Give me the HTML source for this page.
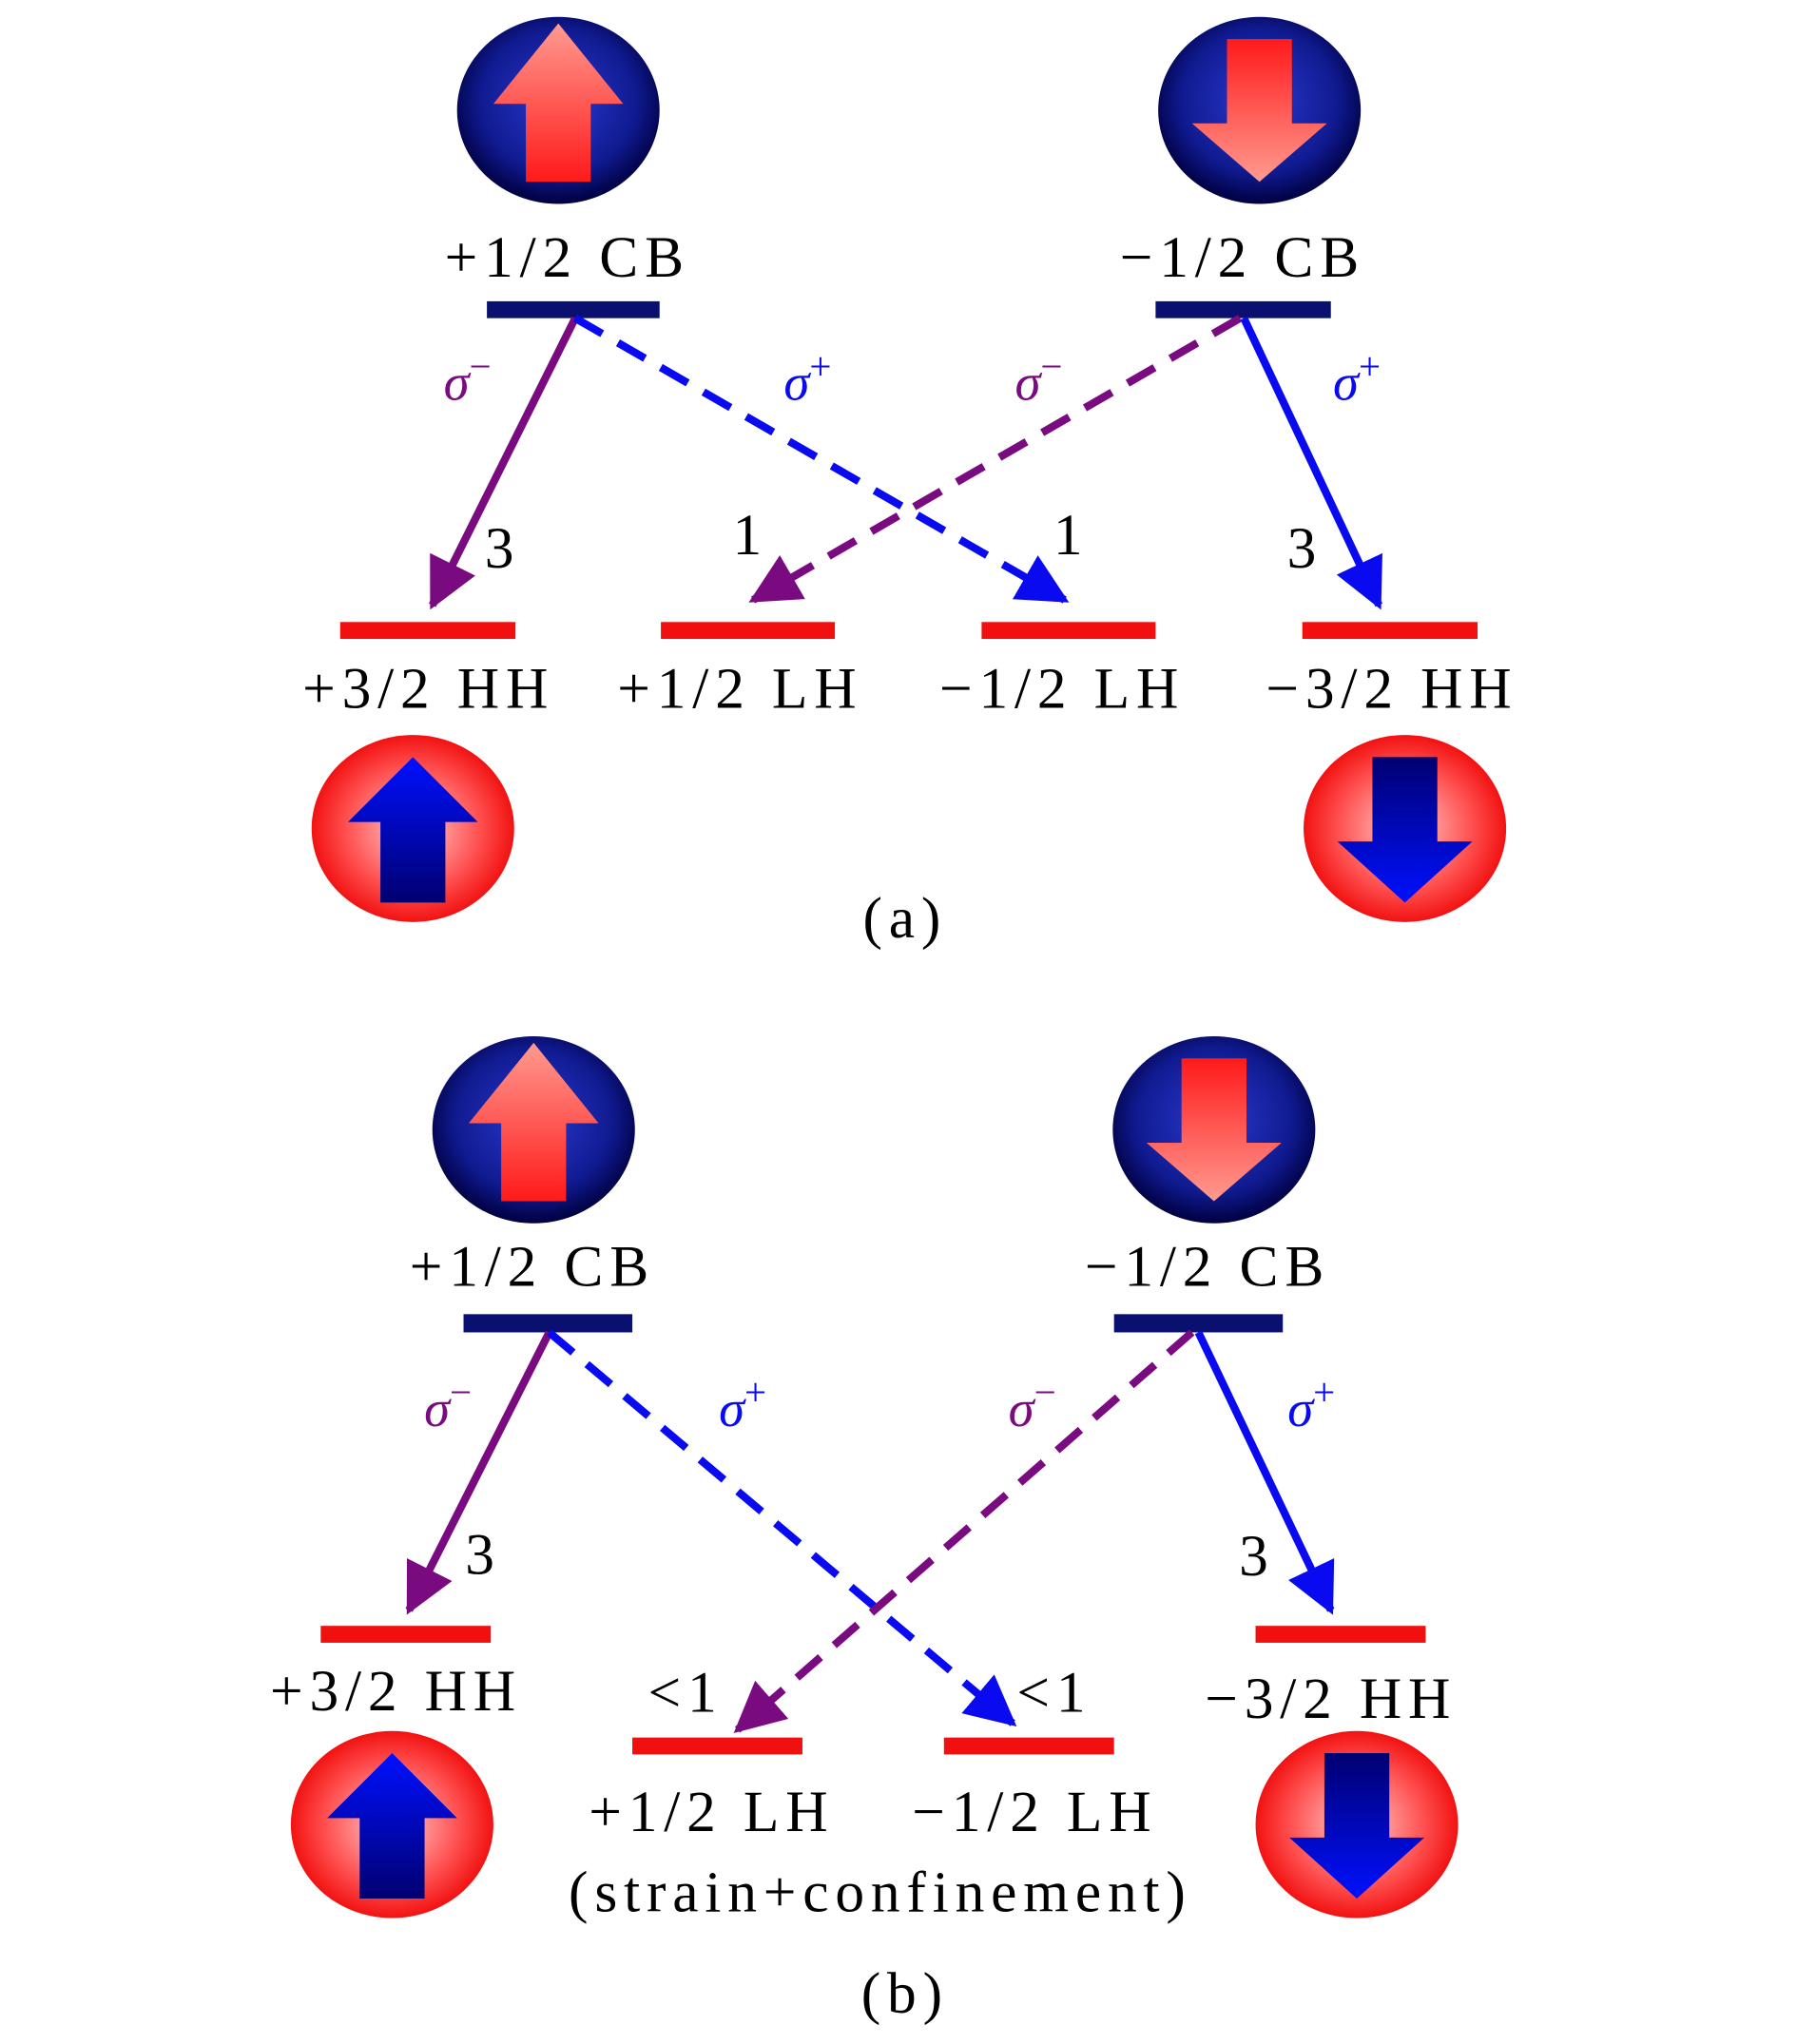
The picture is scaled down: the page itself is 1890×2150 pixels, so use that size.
<!DOCTYPE html>
<html><head><meta charset="utf-8"><style>html,body{margin:0;padding:0;background:#fff}svg{display:block}</style></head><body>
<svg width="1890" height="2150" viewBox="0 0 1384 1574" preserveAspectRatio="none" xmlns="http://www.w3.org/2000/svg">
<defs>
<radialGradient id="gb" cx="50%" cy="45%" r="55%"><stop offset="0" stop-color="#2a3ad0"/><stop offset="0.7" stop-color="#101a90"/><stop offset="1" stop-color="#000040"/></radialGradient>
<radialGradient id="gr" cx="50%" cy="50%" r="55%"><stop offset="0" stop-color="#ffd0d0"/><stop offset="0.6" stop-color="#ff5050"/><stop offset="1" stop-color="#ee0000"/></radialGradient>
<linearGradient id="pa" x1="0" y1="0" x2="0" y2="1"><stop offset="0" stop-color="#ff9a90"/><stop offset="1" stop-color="#ff1a1a"/></linearGradient>
<linearGradient id="pd" x1="0" y1="1" x2="0" y2="0"><stop offset="0" stop-color="#ff9a90"/><stop offset="1" stop-color="#ff1a1a"/></linearGradient>
<linearGradient id="ba" x1="0" y1="0" x2="0" y2="1"><stop offset="0" stop-color="#0010ff"/><stop offset="1" stop-color="#000070"/></linearGradient>
<linearGradient id="bd" x1="0" y1="1" x2="0" y2="0"><stop offset="0" stop-color="#0010ff"/><stop offset="1" stop-color="#000070"/></linearGradient>
<marker id="mp" viewBox="0 0 10 10" refX="9" refY="5" markerWidth="6.5" markerHeight="6.5" orient="auto" markerUnits="strokeWidth"><path d="M0,0L10,5L0,10z" fill="#7a0a80"/></marker>
<marker id="mb" viewBox="0 0 10 10" refX="9" refY="5" markerWidth="6.5" markerHeight="6.5" orient="auto" markerUnits="strokeWidth"><path d="M0,0L10,5L0,10z" fill="#0a0af0"/></marker>
<g id="cu"><ellipse cx="0" cy="0" rx="78" ry="72" fill="url(#gb)"/><path d="M-25,-5H-50L0,-67L50,-5H25V55H-25z" fill="url(#pa)"/></g>
<g id="cd"><ellipse cx="0" cy="0" rx="78" ry="72" fill="url(#gb)"/><path d="M-25,-55H25V10H52L0,55L-52,10H-25z" fill="url(#pd)"/></g>
<g id="ru"><ellipse cx="0" cy="0" rx="78" ry="72" fill="url(#gr)"/><path d="M-25,-5H-50L0,-55L50,-5H25V57H-25z" fill="url(#ba)"/></g>
<g id="rd"><ellipse cx="0" cy="0" rx="78" ry="72" fill="url(#gr)"/><path d="M-25,-55H25V10H52L0,57L-52,10H-25z" fill="url(#bd)"/></g>
</defs>
<g font-family="Liberation Serif, serif" font-size="45" letter-spacing="5" text-anchor="middle" fill="#000">
<!-- (a) -->
<use href="#cu" x="430" y="85"/><use href="#cd" x="970" y="85"/>
<text x="437" y="213">+1/2 CB</text><text x="957" y="213">−1/2 CB</text>
<rect x="375" y="232" width="133" height="13" fill="#0a1070"/><rect x="890" y="232" width="135" height="13" fill="#0a1070"/>
<g fill="#f01010"><rect x="262" y="479" width="135" height="13"/><rect x="509" y="479" width="134" height="13"/><rect x="756" y="479" width="134" height="13"/><rect x="1003" y="479" width="135" height="13"/></g>
<text x="330" y="545">+3/2 HH</text><text x="570" y="545">+1/2 LH</text><text x="818" y="545">−1/2 LH</text><text x="1072" y="545">−3/2 HH</text>
<use href="#ru" x="318" y="638"/><use href="#rd" x="1082" y="638"/>
<text x="697" y="722">(a)</text>
<line x1="443" y1="245" x2="333" y2="466" stroke="#7a0a80" stroke-width="6" marker-end="url(#mp)"/>
<line x1="443" y1="245" x2="820" y2="462" stroke="#0a0af0" stroke-width="6" stroke-dasharray="24,14" marker-end="url(#mb)"/>
<line x1="955" y1="245" x2="580" y2="462" stroke="#7a0a80" stroke-width="6" stroke-dasharray="24,14" marker-end="url(#mp)"/>
<line x1="958" y1="245" x2="1062" y2="466" stroke="#0a0af0" stroke-width="6" marker-end="url(#mb)"/>
<g font-style="italic" font-size="40" letter-spacing="0"><text x="360" y="308" fill="#7a0a80">σ<tspan dy="-16" font-size="30" font-style="normal">−</tspan></text><text x="622" y="308" fill="#0a0af0">σ<tspan dy="-16" font-size="30" font-style="normal">+</tspan></text><text x="800" y="308" fill="#7a0a80">σ<tspan dy="-16" font-size="30" font-style="normal">−</tspan></text><text x="1045" y="308" fill="#0a0af0">σ<tspan dy="-16" font-size="30" font-style="normal">+</tspan></text></g>
<text x="387" y="437">3</text><text x="578" y="427">1</text><text x="825" y="427">1</text><text x="1005" y="437">3</text>
<!-- (b) -->
<use href="#cu" x="411" y="870"/><use href="#cd" x="935" y="870"/>
<text x="410" y="990">+1/2 CB</text><text x="930" y="990">−1/2 CB</text>
<rect x="357" y="1012" width="130" height="14" fill="#0a1070"/><rect x="858" y="1012" width="130" height="14" fill="#0a1070"/>
<g fill="#f01010"><rect x="247" y="1252" width="131" height="13"/><rect x="967" y="1252" width="131" height="13"/><rect x="487" y="1338" width="131" height="13"/><rect x="727" y="1338" width="131" height="13"/></g>
<text x="305" y="1317">+3/2 HH</text><text x="1025" y="1323">−3/2 HH</text><text x="548" y="1410">+1/2 LH</text><text x="797" y="1410">−1/2 LH</text>
<text x="678" y="1472">(strain+confinement)</text><text x="697" y="1550">(b)</text>
<use href="#ru" x="302" y="1405"/><use href="#rd" x="1045" y="1405"/>
<line x1="423" y1="1026" x2="315" y2="1240" stroke="#7a0a80" stroke-width="6" marker-end="url(#mp)"/>
<line x1="423" y1="1026" x2="780" y2="1327" stroke="#0a0af0" stroke-width="6" stroke-dasharray="24,14" marker-end="url(#mb)"/>
<line x1="918" y1="1026" x2="568" y2="1332" stroke="#7a0a80" stroke-width="6" stroke-dasharray="24,14" marker-end="url(#mp)"/>
<line x1="923" y1="1026" x2="1025" y2="1240" stroke="#0a0af0" stroke-width="6" marker-end="url(#mb)"/>
<g font-style="italic" font-size="40" letter-spacing="0"><text x="345" y="1098" fill="#7a0a80">σ<tspan dy="-16" font-size="30" font-style="normal">−</tspan></text><text x="572" y="1098" fill="#0a0af0">σ<tspan dy="-16" font-size="30" font-style="normal">+</tspan></text><text x="795" y="1098" fill="#7a0a80">σ<tspan dy="-16" font-size="30" font-style="normal">−</tspan></text><text x="1010" y="1098" fill="#0a0af0">σ<tspan dy="-16" font-size="30" font-style="normal">+</tspan></text></g>
<text x="372" y="1212">3</text><text x="528" y="1318">&lt;1</text><text x="812" y="1318">&lt;1</text><text x="968" y="1213">3</text>
</g>
</svg>
</body></html>
